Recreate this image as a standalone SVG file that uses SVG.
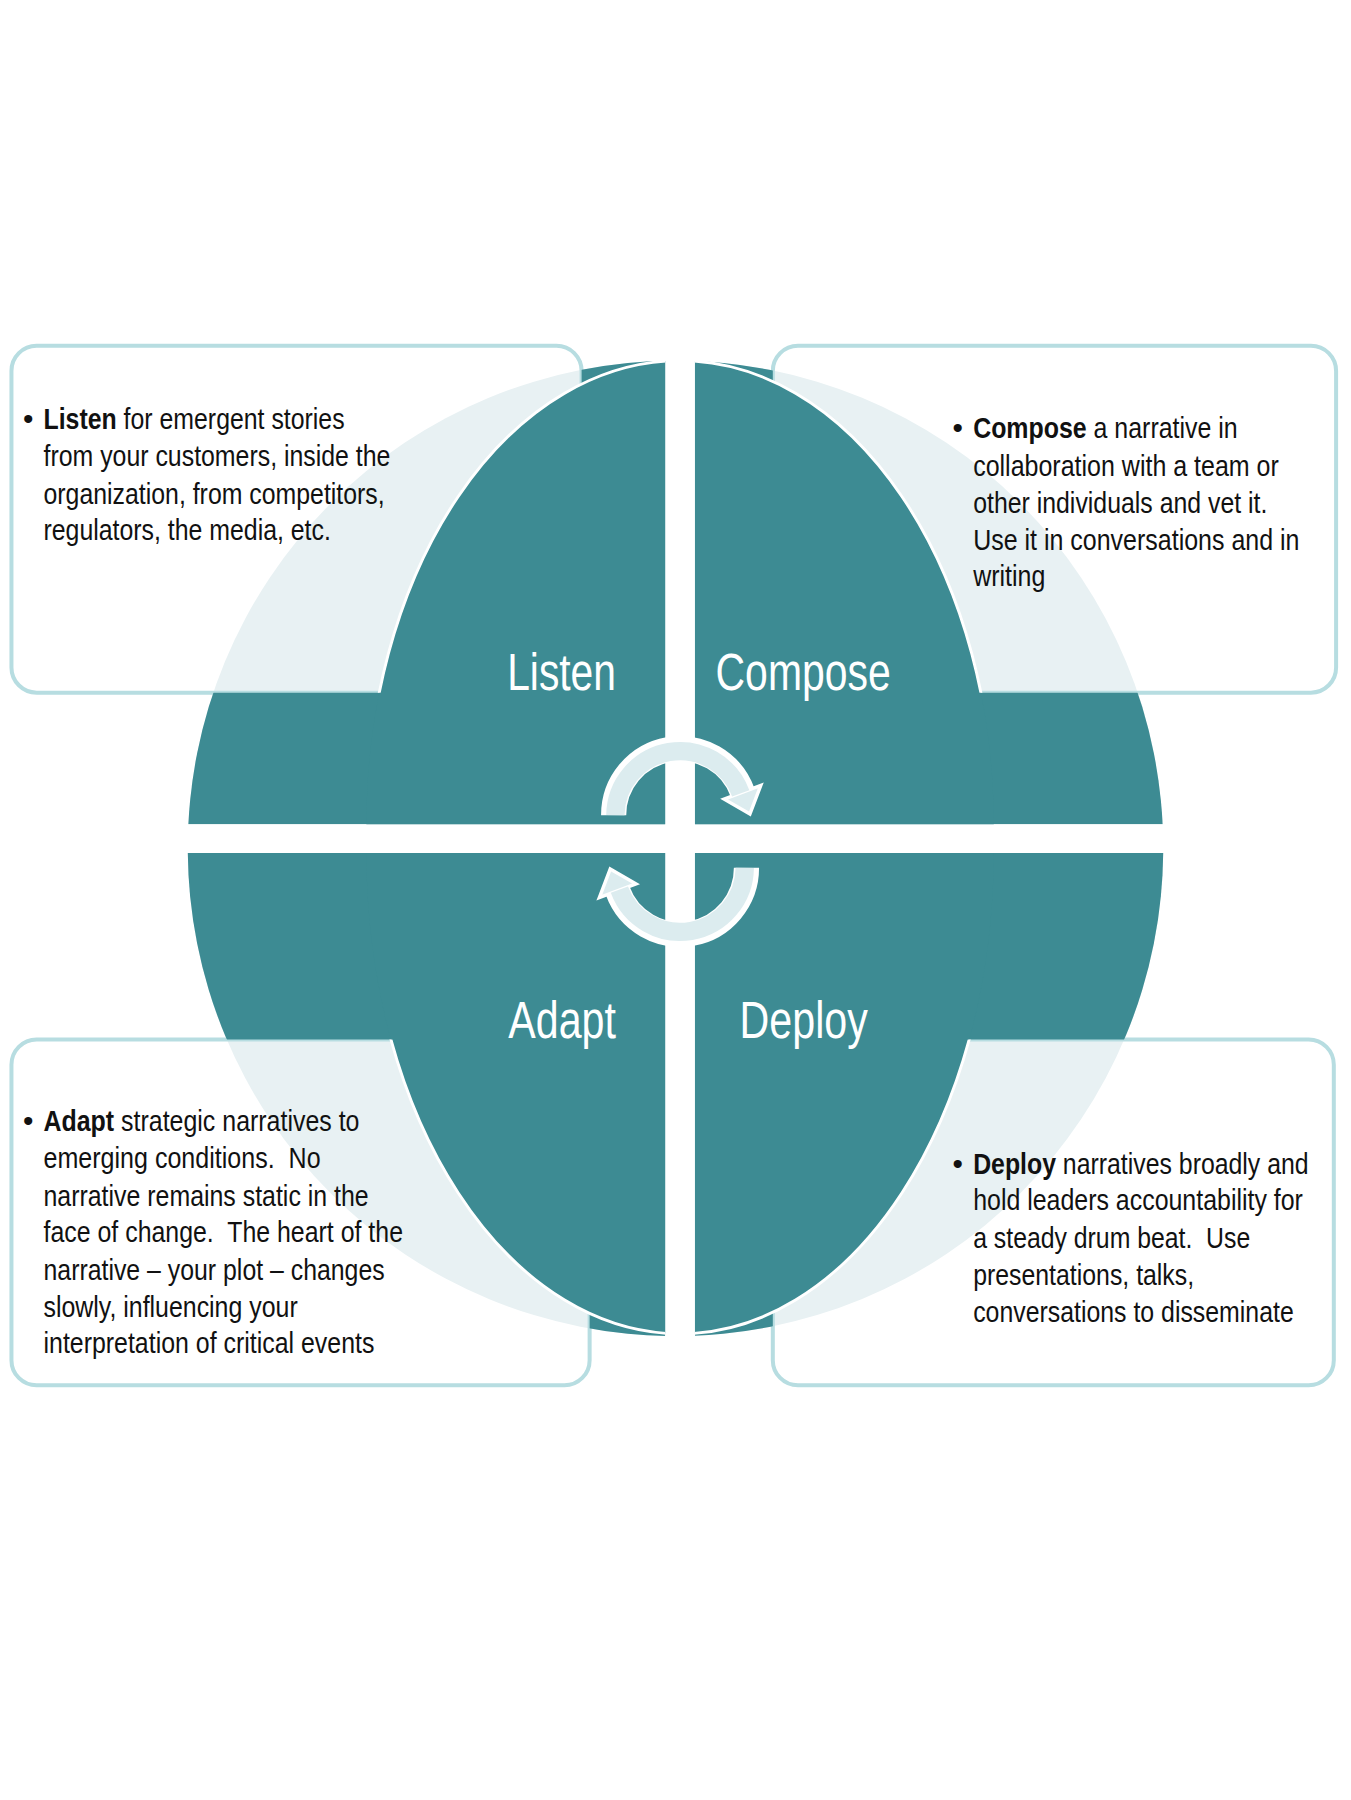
<svg xmlns="http://www.w3.org/2000/svg" width="1351" height="1800" viewBox="0 0 1351 1800">
<defs>
<style>
.t{font-family:"Liberation Sans",Arial,sans-serif;font-size:26px;fill:#111}
.b{font-weight:bold}
.lb{font-family:"Liberation Sans",Arial,sans-serif;font-size:46px;fill:#fff}
.box{fill:none;stroke:#b7dde1;stroke-width:3.5}
.teal{fill:#3d8b93}
.edge{fill:none;stroke:#fff;stroke-width:2.5}
</style>
<clipPath id="qTL"><path clip-rule="evenodd" d="M100,250H581V720H100Z M10,302H508V605H10Z"/></clipPath>
<clipPath id="qTR"><path clip-rule="evenodd" d="M607,250H1100V720H607Z M675,302H1167V605H675Z"/></clipPath>
<clipPath id="qBL"><path clip-rule="evenodd" d="M100,745H581V1250H100Z M10,908H515V1210H10Z"/></clipPath>
<clipPath id="qBR"><path clip-rule="evenodd" d="M607,745H1100V1250H607Z M675,908H1165V1210H675Z"/></clipPath>
<clipPath id="rTL"><rect x="100" y="250" width="481" height="470"/></clipPath>
<clipPath id="rTR"><rect x="607" y="250" width="493" height="470"/></clipPath>
<clipPath id="rBL"><rect x="100" y="745" width="481" height="505"/></clipPath>
<clipPath id="rBR"><rect x="607" y="745" width="493" height="505"/></clipPath>
<clipPath id="bTL"><rect x="10" y="250" width="571" height="355"/></clipPath>
<clipPath id="bTR"><rect x="607" y="250" width="560" height="355"/></clipPath>
<clipPath id="bBL"><rect x="10" y="908" width="571" height="340"/></clipPath>
<clipPath id="bBR"><rect x="607" y="908" width="558" height="340"/></clipPath>
<g id="arrow">
<path d="M536,712 A58,58 0 0 1 648.5,692" fill="none" stroke="#fff" stroke-width="22"/>
<path d="M664.5,686 L655,711 L632.5,698 Z" fill="#dcecef" stroke="#fff" stroke-width="3"/>
<path d="M537.5,712 A56.5,56.5 0 0 1 647,693" fill="none" stroke="#dcecef" stroke-width="16"/>
</g>
</defs>
<rect width="1351" height="1800" fill="#fff"/>
<g transform="scale(1.1449)">
<g id="circle">
<g clip-path="url(#rTL)"><circle cx="590" cy="741" r="426" fill="#e8f1f3"/></g>
<g clip-path="url(#rTR)"><circle cx="590" cy="741" r="426" fill="#e8f1f3"/></g>
<g clip-path="url(#rBL)"><circle cx="590" cy="741" r="426" fill="#e8f1f3"/></g>
<g clip-path="url(#rBR)"><circle cx="590" cy="741" r="426" fill="#e8f1f3"/></g>
</g>
<g id="frames">
<rect class="box" x="10" y="302" width="498" height="303" rx="22"/>
<rect class="box" x="675" y="302" width="492" height="303" rx="22"/>
<rect class="box" x="10" y="908" width="505" height="302" rx="22"/>
<rect class="box" x="675" y="908" width="490" height="302" rx="22"/>
</g>
<g id="q-listen">
<g clip-path="url(#qTL)"><circle class="teal" cx="590" cy="741" r="426"/></g>
<g clip-path="url(#rTL)"><ellipse class="teal" cx="594" cy="720" rx="274" ry="405"/></g>
<g clip-path="url(#bTL)"><ellipse class="edge" cx="594" cy="720" rx="274" ry="405"/></g>
<text class="lb" x="443" y="603" textLength="95" lengthAdjust="spacingAndGlyphs">Listen</text>
</g>
<g id="q-compose">
<g clip-path="url(#qTR)"><circle class="teal" cx="590" cy="741" r="426"/></g>
<g clip-path="url(#rTR)"><ellipse class="teal" cx="594" cy="720" rx="274" ry="405"/></g>
<g clip-path="url(#bTR)"><ellipse class="edge" cx="594" cy="720" rx="274" ry="405"/></g>
<text class="lb" x="625" y="603" textLength="153" lengthAdjust="spacingAndGlyphs">Compose</text>
</g>
<g id="q-adapt">
<g clip-path="url(#qBL)"><circle class="teal" cx="590" cy="741" r="426"/></g>
<g clip-path="url(#rBL)"><ellipse class="teal" cx="594" cy="745" rx="274" ry="420"/></g>
<g clip-path="url(#bBL)"><ellipse class="edge" cx="594" cy="745" rx="274" ry="420"/></g>
<text class="lb" x="444" y="907" textLength="94" lengthAdjust="spacingAndGlyphs">Adapt</text>
</g>
<g id="q-deploy">
<g clip-path="url(#qBR)"><circle class="teal" cx="590" cy="741" r="426"/></g>
<g clip-path="url(#rBR)"><ellipse class="teal" cx="594" cy="745" rx="274" ry="420"/></g>
<g clip-path="url(#bBR)"><ellipse class="edge" cx="594" cy="745" rx="274" ry="420"/></g>
<text class="lb" x="646" y="907" textLength="112" lengthAdjust="spacingAndGlyphs">Deploy</text>
</g>
<g id="connectors">
<use href="#arrow"/>
<use href="#arrow" transform="rotate(180,594,735)"/>
</g>
<g id="box-listen">
<text class="t" x="20" y="375">•</text>
<text class="t" x="38" y="375" textLength="263" lengthAdjust="spacingAndGlyphs"><tspan class="b">Listen</tspan> for emergent stories</text>
<text class="t" x="38" y="407" textLength="303" lengthAdjust="spacingAndGlyphs">from your customers, inside the</text>
<text class="t" x="38" y="440" textLength="298" lengthAdjust="spacingAndGlyphs">organization, from competitors,</text>
<text class="t" x="38" y="472" textLength="251" lengthAdjust="spacingAndGlyphs">regulators, the media, etc.</text>
</g>
<g id="box-compose">
<text class="t" x="832" y="383">•</text>
<text class="t" x="850" y="383" textLength="231" lengthAdjust="spacingAndGlyphs"><tspan class="b">Compose</tspan> a narrative in</text>
<text class="t" x="850" y="416" textLength="267" lengthAdjust="spacingAndGlyphs">collaboration with a team or</text>
<text class="t" x="850" y="448" textLength="257" lengthAdjust="spacingAndGlyphs">other individuals and vet it.</text>
<text class="t" x="850" y="480" textLength="285" lengthAdjust="spacingAndGlyphs">Use it in conversations and in</text>
<text class="t" x="850" y="512" textLength="63" lengthAdjust="spacingAndGlyphs">writing</text>
</g>
<g id="box-adapt">
<text class="t" x="20" y="988">•</text>
<text class="t" x="38" y="988" textLength="276" lengthAdjust="spacingAndGlyphs"><tspan class="b">Adapt</tspan> strategic narratives to</text>
<text class="t" x="38" y="1020" textLength="242" lengthAdjust="spacingAndGlyphs">emerging conditions.&#160; No</text>
<text class="t" x="38" y="1053" textLength="284" lengthAdjust="spacingAndGlyphs">narrative remains static in the</text>
<text class="t" x="38" y="1085" textLength="314" lengthAdjust="spacingAndGlyphs">face of change.&#160; The heart of the</text>
<text class="t" x="38" y="1118" textLength="298" lengthAdjust="spacingAndGlyphs">narrative – your plot – changes</text>
<text class="t" x="38" y="1150" textLength="222" lengthAdjust="spacingAndGlyphs">slowly, influencing your</text>
<text class="t" x="38" y="1182" textLength="289" lengthAdjust="spacingAndGlyphs">interpretation of critical events</text>
</g>
<g id="box-deploy">
<text class="t" x="832" y="1025">•</text>
<text class="t" x="850" y="1025" textLength="293" lengthAdjust="spacingAndGlyphs"><tspan class="b">Deploy</tspan> narratives broadly and</text>
<text class="t" x="850" y="1057" textLength="288" lengthAdjust="spacingAndGlyphs">hold leaders accountability for</text>
<text class="t" x="850" y="1090" textLength="242" lengthAdjust="spacingAndGlyphs">a steady drum beat.&#160; Use</text>
<text class="t" x="850" y="1122" textLength="193" lengthAdjust="spacingAndGlyphs">presentations, talks,</text>
<text class="t" x="850" y="1155" textLength="280" lengthAdjust="spacingAndGlyphs">conversations to disseminate</text>
</g>
</g>
</svg>
